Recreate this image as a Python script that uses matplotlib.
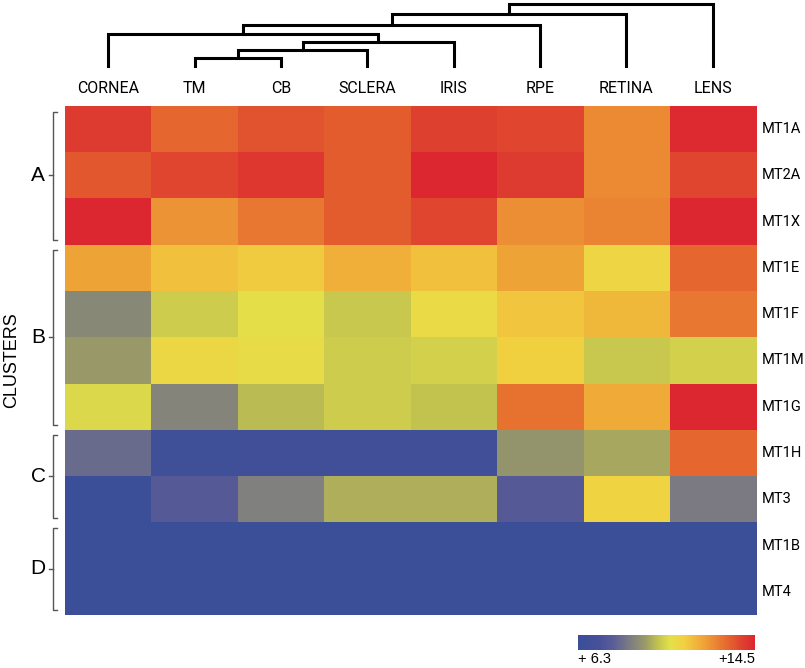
import numpy as np
import matplotlib
matplotlib.use("Agg")
import matplotlib.pyplot as plt
from matplotlib.colors import LinearSegmentedColormap, Normalize
from matplotlib.cm import ScalarMappable

# tissues (columns, in dendrogram order) and metallothionein genes (rows)
tissues = ["CORNEA", "TM", "CB", "SCLERA", "IRIS", "RPE", "RETINA", "LENS"]
genes = ["MT1A", "MT2A", "MT1X", "MT1E", "MT1F", "MT1M", "MT1G", "MT1H", "MT3", "MT1B", "MT4"]

# log2 expression
expr = np.array([
    [14.0, 13.2, 13.6, 13.4, 13.9, 13.8, 12.6, 14.4],  # MT1A
    [13.5, 13.8, 14.1, 13.4, 14.5, 14.0, 12.6, 13.8],  # MT2A
    [14.5, 12.4, 12.9, 13.4, 13.8, 12.5, 12.7, 14.5],  # MT1X
    [12.1, 11.5, 11.3, 11.9, 11.5, 12.1, 11.0, 13.2],  # MT1E
    [9.0, 10.2, 10.6, 10.1, 10.8, 11.4, 11.7, 12.9],   # MT1F
    [9.4, 10.9, 10.7, 10.2, 10.3, 11.2, 10.1, 10.3],   # MT1M
    [10.4, 8.9, 9.9, 10.2, 10.0, 13.0, 12.0, 14.5],    # MT1G
    [8.3, 6.7, 6.8, 6.8, 6.8, 9.3, 9.6, 13.2],         # MT1H
    [6.3, 7.8, 8.8, 9.7, 9.7, 7.8, 11.1, 8.7],         # MT3
    [6.3, 6.3, 6.3, 6.3, 6.3, 6.3, 6.3, 6.3],          # MT1B
    [6.3, 6.3, 6.3, 6.3, 6.3, 6.3, 6.3, 6.3],          # MT4
])
vmin, vmax = 6.3, 14.5

# row clusters: (label, first row, last row)
clusters = [("A", 0, 2), ("B", 3, 6), ("C", 7, 8), ("D", 9, 10)]

# dendrogram merges: (left node, right node, height); leaves are 0..7, new nodes 8..
merges = [(1, 2, 8), (8, 3, 16), (9, 4, 24), (0, 10, 32), (11, 5, 41), (12, 6, 52), (13, 7, 62)]

cmap = LinearSegmentedColormap.from_list("mt", [
    (0.00, "#3a4f98"), (0.12, "#48509a"), (0.20, "#5a5e96"), (0.30, "#7f7e80"),
    (0.38, "#9a9a68"), (0.45, "#c2c250"), (0.52, "#e4e04a"), (0.60, "#f2d040"),
    (0.68, "#f0b03a"), (0.76, "#ec8e34"), (0.86, "#e4602e"), (0.93, "#de4030"),
    (1.00, "#dc2630"),
])

narrow = ["Roboto", "DejaVu Sans"]
plain = ["Liberation Sans", "DejaVu Sans"]

W, H = 805, 668
fig = plt.figure(figsize=(W / 100, H / 100), dpi=100)

# heatmap
ax = fig.add_axes([65 / W, (H - 615) / H, 691 / W, 509 / H])
n_rows, n_cols = expr.shape
ax.imshow(expr, cmap=cmap, vmin=vmin, vmax=vmax, aspect="auto",
          extent=(0, n_cols, n_rows, 0), interpolation="nearest")
ax.set_xlim(0, n_cols)
ax.set_ylim(n_rows, 0)
ax.axis("off")

for i, g in enumerate(genes):
    ax.text(1.009, i + 0.5, g, transform=ax.get_yaxis_transform(),
            ha="left", va="center", fontsize=10.5, family=narrow)

for j, t in enumerate(tissues):
    ax.text(j + 0.5, 1.035, t, transform=ax.get_xaxis_transform(),
            ha="center", va="center", fontsize=11.5, family=narrow)

# cluster brackets
tr = ax.get_yaxis_transform()
xb, tick = -0.0174, 0.006
for name, r0, r1 in clusters:
    top, bot = r0 + 0.12, r1 + 1 - 0.1
    mid = (r0 + r1 + 1) / 2
    ax.plot([xb + tick, xb, xb, xb + tick], [top, top, bot, bot], color="#555555",
            lw=1.0, transform=tr, clip_on=False)
    ax.plot([xb, xb - tick], [mid, mid], color="#555555", lw=1.0, transform=tr, clip_on=False)
    ax.text(-0.039, mid, name, transform=tr, ha="center", va="center",
            fontsize=15, family=plain)
ax.text(-0.077, n_rows / 2, "CLUSTERS", transform=tr, rotation=90,
        ha="center", va="center", fontsize=13, family=plain)

# dendrogram of tissues
dax = fig.add_axes([65 / W, (H - 66) / H, 691 / W, 62 / H])
dax.set_xlim(0, n_cols)
dax.set_ylim(0, 62)
dax.axis("off")
pos = {k: k + 0.5 for k in range(n_cols)}
hgt = {k: 0 for k in range(n_cols)}
for k, (a, b, h) in enumerate(merges):
    node = n_cols + k
    dax.plot([pos[a], pos[a], pos[b], pos[b]], [hgt[a], h, h, hgt[b]],
             color="black", lw=2.2, solid_joinstyle="miter", clip_on=False)
    pos[node] = (pos[a] + pos[b]) / 2
    hgt[node] = h

# colour bar
cax = fig.add_axes([578 / W, (H - 650) / H, 177 / W, 15 / H])
cb = fig.colorbar(ScalarMappable(norm=Normalize(vmin, vmax), cmap=cmap),
                  cax=cax, orientation="horizontal")
cb.outline.set_visible(False)
cb.set_ticks([])
cax.text(0, -0.62, "+ 6.3", transform=cax.transAxes, ha="left", va="center",
         fontsize=10.5, family=plain)
cax.text(1, -0.62, "+14.5", transform=cax.transAxes, ha="right", va="center",
         fontsize=10.5, family=plain)

fig.savefig("out.png", dpi=100)
